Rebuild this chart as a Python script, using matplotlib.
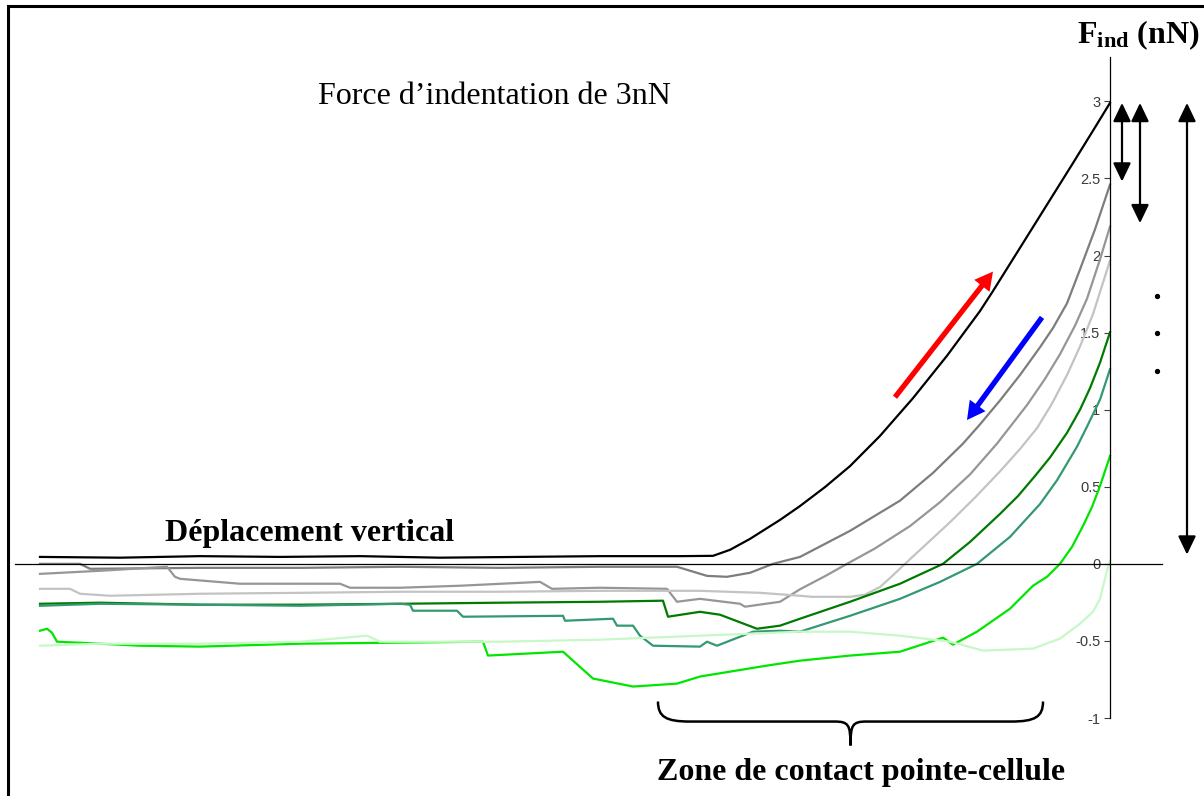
#!/usr/bin/env python3
# -*- coding: utf-8 -*-
"""Courbes de force AFM (indentation 3 nN) : approche / retrait, plusieurs cycles."""
import matplotlib
matplotlib.use("Agg")
import matplotlib.pyplot as plt
from matplotlib.patches import FancyArrowPatch, PathPatch, Rectangle
from matplotlib.path import Path

plt.rcParams["font.family"] = ["Liberation Serif", "DejaVu Serif"]
plt.rcParams["axes.unicode_minus"] = False
plt.rcParams["mathtext.fontset"] = "custom"
plt.rcParams["mathtext.rm"] = "Liberation Serif"
plt.rcParams["mathtext.bf"] = "Liberation Serif:bold"

# déplacement vertical (nm, u.a.) / force (nN)
x_black = [0, 80, 160, 240, 320, 400, 480, 560, 640, 673, 690, 710, 740, 760, 785, 810,
           840, 873, 907, 940, 953, 980, 1007, 1033, 1053, 1070]
f_black = [0.045, 0.040, 0.050, 0.045, 0.050, 0.040, 0.045, 0.050, 0.050, 0.052, 0.091, 0.162, 0.285,
           0.375, 0.498, 0.634, 0.830, 1.075, 1.350, 1.640, 1.770, 2.050, 2.330, 2.600, 2.810, 2.990]

x_gray1 = [0, 40, 50, 160, 260, 360, 460, 560, 637, 667, 687, 710, 733, 760, 810, 860, 893, 923,
           940, 960, 980, 1000, 1013, 1027, 1040, 1055, 1070]
f_gray1 = [0.0, 0.0, -0.032, -0.026, -0.026, -0.019, -0.026, -0.019, -0.019, -0.078, -0.084, -0.058,
           0.0, 0.045, 0.214, 0.410, 0.590, 0.780, 0.905, 1.060, 1.225, 1.405, 1.530, 1.690, 1.910, 2.170, 2.460]

x_gray2 = [0, 60, 127, 135, 140, 200, 300, 310, 360, 420, 500, 512, 560, 627, 637, 660, 700, 705,
           740, 760, 785, 807, 835, 870, 900, 930, 957, 987, 1005, 1020, 1035, 1047, 1060, 1070]
f_gray2 = [-0.065, -0.045, -0.019, -0.084, -0.097, -0.129, -0.129, -0.155, -0.155, -0.142, -0.117,
           -0.162, -0.155, -0.162, -0.246, -0.227, -0.259, -0.278, -0.246, -0.165, -0.080, 0.0, 0.100,
           0.245, 0.400, 0.580, 0.780, 1.030, 1.200, 1.360, 1.545, 1.720, 1.975, 2.188]

x_lgray = [0, 30, 40, 70, 160, 260, 360, 460, 560, 660, 720, 760, 772, 810, 825, 840, 852, 865,
           885, 910, 935, 960, 980, 997, 1012, 1027, 1040, 1053, 1070]
f_lgray = [-0.162, -0.162, -0.194, -0.207, -0.194, -0.188, -0.181, -0.181, -0.175, -0.175, -0.188,
           -0.207, -0.214, -0.214, -0.200, -0.150, -0.080, 0.0, 0.120, 0.270, 0.430, 0.600, 0.745,
           0.880, 1.040, 1.225, 1.410, 1.620, 1.967]

x_dgreen = [0, 60, 160, 260, 360, 460, 560, 623, 628, 660, 680, 717, 740, 760, 810, 860, 903, 930,
            960, 978, 995, 1010, 1027, 1040, 1050, 1060, 1070]
f_dgreen = [-0.259, -0.252, -0.265, -0.265, -0.259, -0.252, -0.246, -0.239, -0.343, -0.311, -0.330,
            -0.421, -0.401, -0.356, -0.246, -0.129, 0.0, 0.142, 0.324, 0.440, 0.570, 0.690, 0.850,
            1.000, 1.140, 1.305, 1.502]

x_teal = [0, 60, 160, 260, 360, 370, 373, 417, 423, 523, 525, 573, 577, 593, 600, 613, 660, 667,
          677, 713, 740, 760, 810, 860, 900, 937, 970, 1000, 1017, 1037, 1047, 1060, 1070]
f_teal = [-0.272, -0.259, -0.265, -0.272, -0.259, -0.265, -0.304, -0.304, -0.343, -0.337, -0.369,
          -0.356, -0.401, -0.401, -0.466, -0.531, -0.537, -0.505, -0.531, -0.440, -0.434, -0.440,
          -0.337, -0.227, -0.117, 0.0, 0.175, 0.388, 0.542, 0.760, 0.890, 1.065, 1.262]

x_bgreen = [0, 7, 12, 17, 60, 100, 160, 260, 360, 443, 448, 523, 553, 593, 637, 660, 727, 760, 810,
            860, 903, 913, 937, 970, 993, 1007, 1020, 1032, 1043, 1052, 1060, 1070]
f_bgreen = [-0.434, -0.421, -0.447, -0.505, -0.518, -0.531, -0.537, -0.518, -0.511, -0.505, -0.595,
            -0.570, -0.744, -0.796, -0.777, -0.731, -0.660, -0.628, -0.595, -0.570, -0.479, -0.524,
            -0.440, -0.291, -0.142, -0.084, 0.0, 0.110, 0.246, 0.369, 0.505, 0.699]

x_pgreen = [0, 60, 160, 260, 327, 340, 460, 560, 660, 760, 810, 860, 910, 943, 993, 1020, 1040,
            1053, 1060, 1067, 1070]
f_pgreen = [-0.531, -0.518, -0.518, -0.505, -0.466, -0.505, -0.505, -0.492, -0.466, -0.440, -0.440,
            -0.466, -0.505, -0.563, -0.550, -0.485, -0.388, -0.311, -0.227, -0.045, 0.019]

curves = [
    (x_black, f_black, "#000000"),
    (x_gray1, f_gray1, "#7d7d7d"),
    (x_gray2, f_gray2, "#969696"),
    (x_lgray, f_lgray, "#c3c3c3"),
    (x_dgreen, f_dgreen, "#007a00"),
    (x_teal, f_teal, "#339970"),
    (x_bgreen, f_bgreen, "#00e600"),
    (x_pgreen, f_pgreen, "#c8f8c8"),
]

y_ticks = [-1, -0.5, 0, 0.5, 1, 1.5, 2, 2.5, 3]
y_tick_labels = ["-1", "-0.5", "0", "0.5", "1", "1.5", "2", "2.5", "3"]

# extrémités des flèches doubles (force max -> force finale)
f_top = 2.99
f_bottoms = [2.48, 2.21, 0.06]
x_double = [1082, 1100, 1147]

W, H = 1204, 796
fig = plt.figure(figsize=(W / 100, H / 100), dpi=100)
ax = fig.add_axes([15 / W, 78 / H, 1147 / W, 661 / H])
ax.patch.set_visible(False)

for x, f, c in curves:
    ax.plot(x, f, color=c, lw=1.6, solid_joinstyle="round")

ax.set_xlim(-25, 1122)
ax.set_ylim(-1, 3.288)
ax.spines["left"].set_position(("data", 1070))
ax.spines["bottom"].set_position(("data", 0))
ax.spines["top"].set_visible(False)
ax.spines["right"].set_visible(False)
for s in ("left", "bottom"):
    ax.spines[s].set_linewidth(0.9)
ax.set_xticks([])
ax.set_yticks(y_ticks)
ax.set_yticklabels(y_tick_labels, fontfamily="Liberation Sans", fontsize=10.5, color="#3a3a3a")
ax.tick_params(axis="y", direction="out", length=4, width=0.8, pad=3, color="#404040")

# flèches approche / retrait
arr = "simple,head_length=13,head_width=14,tail_width=3.8"
ax.add_patch(FancyArrowPatch((855, 1.081), (953, 1.896), arrowstyle=arr,
                             mutation_scale=1, color="#ff0000", lw=0, shrinkA=0, shrinkB=0))
ax.add_patch(FancyArrowPatch((1002, 1.599), (927, 0.933), arrowstyle=arr,
                             mutation_scale=1, color="#0000ff", lw=0, shrinkA=0, shrinkB=0))

for xd, fb in zip(x_double, f_bottoms):
    ax.add_patch(FancyArrowPatch((xd, fb), (xd, f_top), arrowstyle="<|-|>,head_length=0.75,head_width=0.36",
                                 mutation_scale=15, color="black", lw=1.6, shrinkA=0, shrinkB=0, clip_on=False))
ax.plot([1117, 1117, 1117], [1.735, 1.495, 1.249], "o", color="black", ms=2.8, clip_on=False)

# accolade sous la zone de contact
def brace(x0, x1, y0, y1, ytip):
    xm = (x0 + x1) / 2
    v = [(x0, y0), (x0, y1 + 0.03), (x0 + 8, y1), (x0 + 32, y1),
         (xm - 16, y1), (xm - 2, y1), (xm, y1 - 0.02), (xm, ytip),
         (xm, y1 - 0.02), (xm + 2, y1), (xm + 16, y1),
         (x1 - 32, y1), (x1 - 8, y1), (x1, y1 + 0.03), (x1, y0)]
    c = [Path.MOVETO, Path.CURVE4, Path.CURVE4, Path.CURVE4,
         Path.LINETO, Path.CURVE4, Path.CURVE4, Path.CURVE4,
         Path.CURVE4, Path.CURVE4, Path.CURVE4,
         Path.LINETO, Path.CURVE4, Path.CURVE4, Path.CURVE4]
    return Path(v, c)

ax.add_patch(PathPatch(brace(618, 1003, -0.893, -1.023, -1.178), fill=False, lw=1.8,
                       ec="black", clip_on=False))

fig.text(1077 / W, 1 - 43 / H, r"$\mathbf{F_{ind}}$ (nN)", fontsize=23, fontweight="bold", va="baseline")
fig.text(318 / W, 1 - 104 / H, "Force d\u2019indentation de 3nN", fontsize=23, va="baseline")
fig.text(165 / W, 1 - 541 / H, "Déplacement vertical", fontsize=23, fontweight="bold", va="baseline")
fig.text(657 / W, 1 - 780 / H, "Zone de contact pointe-cellule", fontsize=23, fontweight="bold", va="baseline")

fig.patches.append(Rectangle((7.5 / W, -0.02), 1.05, 1 - 5.5 / H + 0.02, transform=fig.transFigure,
                             fill=False, lw=2.2, ec="black"))

fig.savefig("out.png", dpi=100)
